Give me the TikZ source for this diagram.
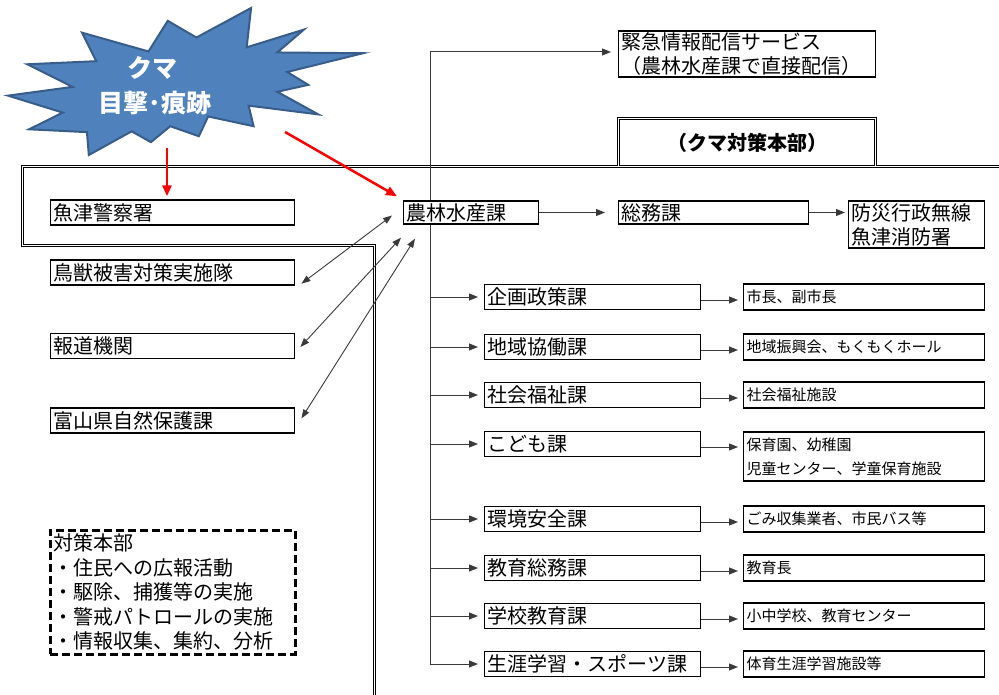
\documentclass[tikz,border=0pt]{standalone}
\usepackage{fontspec}
\setmainfont{Noto Sans CJK JP}
\usepackage{tikz}
\usetikzlibrary{positioning}
\usetikzlibrary{arrows.meta}
\usetikzlibrary{calc, shapes, backgrounds}
\definecolor{sealblue}{HTML}{4F81BD}
\definecolor{sealline}{HTML}{385D8A}
\definecolor{linegray}{HTML}{3A3A3A}
\tikzstyle{arrow} = [line width=1pt, draw=linegray, ->, >={Triangle[length=9pt,width=7pt]}]
\tikzstyle{bothway} = [line width=0.9pt, draw=linegray, <->, >={Triangle[length=9pt,width=6.5pt]}]
\tikzstyle{alert} = [line width=2.5pt, draw=red, ->, >={Triangle[length=11pt,width=9pt]}]
\tikzstyle{frame} = [line width=0.9pt, double, double distance=1.8pt]

\begin{document}
\begin{tikzpicture}[
			x = 1pt, y = -1pt,
			every node/.style = {draw, fill = white, line width = 1.4pt, inner xsep = 3pt, inner ysep = 0pt, align = left, anchor = west},
			big/.style = {font = \fontsize{20}{24}\selectfont},
			small/.style = {font = \fontsize{15}{24}\selectfont},
			memo/.style = {big, draw, line width = 2.6pt, dash pattern = on 8pt off 4pt, font = \fontsize{20}{24.5}\selectfont}
		]
			\useasboundingbox (0,0) rectangle (999,695);

			% Outline of the head office
			\draw[frame] (999,166.5) -- (22.5,166.5) -- (22.5,245.5) -- (374.5,245.5) -- (374.5,695);
			\draw[frame] (618.5,166) -- (618.5,118.5) -- (875.5,118.5) -- (875.5,166);

			% Sighting
			\filldraw[fill = sealblue, draw = sealline, line width = 2pt, shift = {(8,8)}, x = 1.6435pt, y = -0.68056pt]
				(114.64,43.40) -- (97.22,18.87) -- (85.48,63.83) -- (45.03,36.26) -- (53.73,78.16) -- (11.74,82.70)
				-- (39.34,115.92) -- (0,128.75) -- (33.29,153.72) -- (12.83,178.24) -- (48.04,182.39) -- (49.18,216)
				-- (75.25,181.25) -- (86.98,197.12) -- (98.71,173.71) -- (116.14,188.44) -- (121.78,159.37) -- (149.43,173.71)
				-- (146.40,143.48) -- (188.78,156.32) -- (163.82,123.11) -- (182.70,112.92) -- (169.86,94.04) -- (216,66.46)
				-- (163.82,65.33) -- (180.05,31.72) -- (145.24,57.78) -- (147.89,0) -- cycle;
			\begin{scope}[nodes = {draw = none, fill = none, anchor = center, text = white, font = \fontsize{25}{25}\selectfont\bfseries}]
				\node (bear) at (152,68) {クマ};
				\node (trace) at (155,103) {目撃･痕跡};
			\end{scope}
			\coordinate (seal1) at (167,148);
			\coordinate (seal2) at (285,132);

			% Left column
			\node[big, text width = 238pt, minimum height = 25pt] (police) at (50,212.5) {魚津警察署};
			\node[big, text width = 238pt, minimum height = 25pt] (choju) at (50,272.5) {鳥獣被害対策実施隊};
			\node[big, text width = 238pt, minimum height = 25pt] (media) at (50,346) {報道機関};
			\node[big, text width = 238pt, minimum height = 25pt] (toyama) at (50,420.5) {富山県自然保護課};
			\node[memo, anchor = north west, text width = 239pt, minimum height = 124pt] (tasks) at (49,529) {対策本部\\・住民への広報活動\\・駆除、捕獲等の実施\\・警戒パトロールの実施\\・情報収集、集約、分析};

			% Head office
			\node[draw = none, fill = none, anchor = center, font = \fontsize{20}{24}\selectfont\bfseries] (honbu) at (747,143) {（クマ対策本部）};
			\node[big, text width = 251pt, minimum height = 46pt] (kinkyu) at (618,54) {緊急情報配信サービス\\（農林水産課で直接配信）};
			\coordinate (trunktop) at (430,52);

			% Trunk
			\node[big, text width = 210pt, minimum height = 25pt] (m1) at (484,297) {企画政策課};
			\node[big, text width = 210pt, minimum height = 25pt] (m2) at (484,347) {地域協働課};
			\node[big, text width = 210pt, minimum height = 25pt] (m3) at (484,395) {社会福祉課};
			\node[big, text width = 210pt, minimum height = 25pt] (m4) at (484,444) {こども課};
			\node[big, text width = 210pt, minimum height = 25pt] (m5) at (484,519) {環境安全課};
			\node[big, text width = 210pt, minimum height = 25pt] (m6) at (484,568) {教育総務課};
			\node[big, text width = 210pt, minimum height = 25pt] (m7) at (484,616) {学校教育課};
			\node[big, text width = 210pt, minimum height = 25pt] (m8) at (484,664) {生涯学習・スポーツ課};
			\draw[arrow, shorten >= 7pt] (trunktop |- m8.west) -- (trunktop) -- (kinkyu.west |- trunktop);

			\node[big, text width = 129pt, minimum height = 23pt] (nourin) at (403,212.5) {農林水産課};
			\node[big, text width = 184pt, minimum height = 23pt] (somu) at (618,212.5) {総務課};
			\node[big, text width = 130pt, minimum height = 47pt] (bosai) at (848,224.5) {防災行政無線\\魚津消防署};

			% Receivers
			\node[small, text width = 235pt, minimum height = 26pt] (r1) at (743,297) {市長、副市長};
			\node[small, text width = 235pt, minimum height = 26pt] (r2) at (743,347) {地域振興会、もくもくホール};
			\node[small, text width = 235pt, minimum height = 26pt] (r3) at (743,395) {社会福祉施設};
			\node[small, text width = 235pt, minimum height = 49pt] (r4) at (743,456.5) {保育園、幼稚園\\児童センター、学童保育施設};
			\node[small, text width = 235pt, minimum height = 26pt] (r5) at (743,519) {ごみ収集業者、市民バス等};
			\node[small, text width = 235pt, minimum height = 26pt] (r6) at (743,568) {教育長};
			\node[small, text width = 235pt, minimum height = 26pt] (r7) at (743,616) {小中学校、教育センター};
			\node[small, text width = 235pt, minimum height = 26pt] (r8) at (743,664) {体育生涯学習施設等};

			% Arrows
			\draw[alert] (seal1) -- ($(seal1 |- police.north)+(0,-3)$);
			\draw[alert] (seal2) -- ([xshift = -6pt, yshift = 4pt]nourin.north west);
			\draw[bothway] ([xshift = 6pt, yshift = 2pt]choju.south east) -- ([xshift = -11pt, yshift = -3pt]nourin.west);
			\draw[bothway] ([xshift = 5pt, yshift = -1pt]media.east) -- ([xshift = -2pt, yshift = -13pt]nourin.south west);
			\draw[bothway] ([xshift = 6pt, yshift = 2pt]toyama.east) -- ([xshift = 12pt, yshift = -14pt]nourin.south west);
			\draw[arrow, shorten >= 13pt] (nourin.east) -- (somu.west);
			\draw[arrow, shorten >= 3pt] (somu.east) -- (somu.east -| bosai.west);

			\draw[arrow, shorten >= 6pt] (trunktop |- m1.west) -- (m1.west);
			\draw[arrow, shorten >= 6pt] (trunktop |- m2.west) -- (m2.west);
			\draw[arrow, shorten >= 6pt] (trunktop |- m3.west) -- (m3.west);
			\draw[arrow, shorten >= 6pt] (trunktop |- m4.west) -- (m4.west);
			\draw[arrow, shorten >= 6pt] (trunktop |- m5.west) -- (m5.west);
			\draw[arrow, shorten >= 6pt] (trunktop |- m6.west) -- (m6.west);
			\draw[arrow, shorten >= 6pt] (trunktop |- m7.west) -- (m7.west);
			\draw[arrow, shorten >= 6pt] (trunktop |- m8.west) -- (m8.west);

			\draw[arrow, shorten >= 5pt] ([yshift = -3pt]m1.east) -- ([yshift = -3pt]m1.east -| r1.west);
			\draw[arrow, shorten >= 5pt] ([yshift = -3pt]m2.east) -- ([yshift = -3pt]m2.east -| r2.west);
			\draw[arrow, shorten >= 5pt] ([yshift = -3pt]m3.east) -- ([yshift = -3pt]m3.east -| r3.west);
			\draw[arrow, shorten >= 5pt] ([yshift = -3pt]m4.east) -- ([yshift = -3pt]m4.east -| r4.west);
			\draw[arrow, shorten >= 5pt] ([yshift = -3pt]m5.east) -- ([yshift = -3pt]m5.east -| r5.west);
			\draw[arrow, shorten >= 5pt] ([yshift = -3pt]m6.east) -- ([yshift = -3pt]m6.east -| r6.west);
			\draw[arrow, shorten >= 5pt] ([yshift = -3pt]m7.east) -- ([yshift = -3pt]m7.east -| r7.west);
			\draw[arrow, shorten >= 5pt] ([yshift = -3pt]m8.east) -- ([yshift = -3pt]m8.east -| r8.west);
		\end{tikzpicture}
\end{document}
